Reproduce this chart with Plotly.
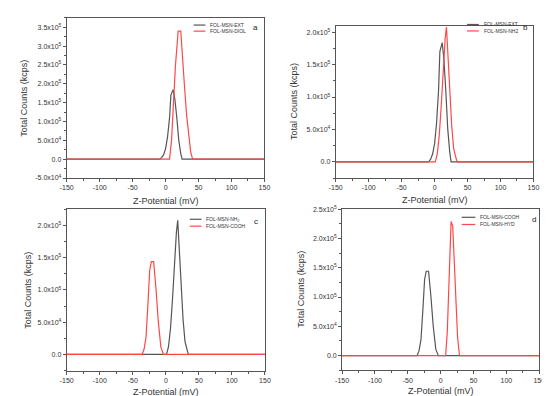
import plotly.graph_objects as go
import math

# ---------------- data ----------------
ext_x = [-150, -9, -6, -3, 0, 3, 6, 8, 11.5, 14, 17, 20, 23, 25, 150]
ext_y = [0, 0, 4e3, 1.2e4, 2.8e4, 6e4, 1.1e5, 1.7e5, 1.84e5, 1.6e5, 1.1e5, 5e4, 1.5e4, 0, 0]

diol_x = [-150, 6, 9, 12, 15, 17.5, 19, 23, 26, 29, 32, 35, 38, 41, 150]
diol_y = [0, 0, 5e4, 1.55e5, 2.5e5, 3.05e5, 3.4e5, 3.4e5, 2.5e5, 1.85e5, 1.15e5, 6e4, 2e4, 0, 0]

nh2_x = [-150, 1, 4, 7, 10, 13, 16, 18, 20, 23, 26, 29, 31.5, 34, 150]
nh2_y = [0, 0, 1.2e4, 4e4, 8.5e4, 1.4e5, 1.9e5, 2.08e5, 1.65e5, 1.05e5, 5.5e4, 2e4, 7e3, 0, 0]

cooh_x = [-150, -36, -33, -30, -27, -24.5, -22, -18.5, -15, -11.5, -7.5, -3.5, 150]
cooh_y = [0, 0, 8e3, 2.7e4, 8e4, 1.3e5, 1.44e5, 1.44e5, 1.03e5, 5.2e4, 1.1e4, 0, 0]

hyd_x = [-150, 7.5, 10, 12.5, 15.8, 18.3, 20.5, 22.3, 24, 25.7, 28.6, 150]
hyd_y = [0, 0, 4e4, 1.2e5, 2.29e5, 2.21e5, 1.6e5, 1.15e5, 6.5e4, 3.1e4, 0, 0]

x_ticks = [-150, -100, -50, 0, 50, 100, 150]
x_minor = [-125, -75, -25, 25, 75, 125]

panels = [
    # label, gray(name,x,y), red(name,x,y), y range, y major ticks
    ("a", ("FOL-MSN-EXT", ext_x, ext_y), ("FOL-MSN-DIOL", diol_x, diol_y),
     [-5e4, 3.75e5], [-5e4, 0, 5e4, 1e5, 1.5e5, 2e5, 2.5e5, 3e5, 3.5e5]),
    ("b", ("FOL-MSN-EXT", ext_x, ext_y), ("FOL-MSN-NH2", nh2_x, nh2_y),
     [-2.5e4, 2.1e5], [0, 5e4, 1e5, 1.5e5, 2e5]),
    ("c", ("FOL-MSN-NH<sub>2</sub>", nh2_x, nh2_y), ("FOL-MSN-COOH", cooh_x, cooh_y),
     [-2.5e4, 2.25e5], [0, 5e4, 1e5, 1.5e5, 2e5]),
    ("d", ("FOL-MSN-COOH", cooh_x, cooh_y), ("FOL-MSN-HYD", hyd_x, hyd_y),
     [-2.5e4, 2.5e5], [0, 5e4, 1e5, 1.5e5, 2e5, 2.5e5]),
]

# ---------------- layout geometry (pixels) ----------------
W, H = 550, 396
boxes = {  # left, right, top, bottom in px
    "a": (53, 255.5, 6, 169),
    "b": (328.5, 531, 14, 169),
    "c": (53, 256, 201, 365),
    "d": (335, 537, 200.7, 364.7),
}
ytitle_x = {"a": 9, "b": 286, "c": 13, "d": 293}
xtitle_y = {"a": 192, "b": 191, "c": 387, "d": 386}
legend_pos = {  # line start x, line end x, text x, row1 y, row2 y, letter x, letter y
    "a": (183, 195, 197.5, 13.3, 19.5, 246, 16),
    "b": (463, 475, 478, 12.7, 19.3, 523, 15.7),
    "c": (179, 191, 193.5, 211, 218, 247, 213),
    "d": (457.5, 471.5, 474.5, 209, 216.3, 531.5, 211.3),
}

GRAY = "#555555"
RED = "#ff4747"
AX = "#555555"
TXT = "#333333"
FONT = "Arial, Liberation Sans, sans-serif"


def fmt(v):
    if v == 0:
        return "0.0"
    e = int(math.floor(math.log10(abs(v))))
    m = v / 10 ** e
    return f"{m:.1f}x10<sup>{e}</sup>"


def px(x):
    return x / W


def py(y):
    return 1 - y / H


fig = go.Figure()
annotations = []
shapes = []

for i, (lab, g, r, yr, yt) in enumerate(panels):
    n = "" if i == 0 else str(i + 1)
    L, R, T, B = boxes[lab]
    for (name, xs, ys), col in ((g, GRAY), (r, RED)):
        fig.add_trace(go.Scatter(
            x=xs, y=ys, mode="lines", name=name, showlegend=False,
            line=dict(color=col, width=1.2),
            xaxis="x" + n, yaxis="y" + n,
        ))
    step = yt[1] - yt[0]
    yminor = []
    v = yt[0] - step / 2
    while v <= yr[1]:
        if v >= yr[0]:
            yminor.append(v)
        v += step
    common = dict(showline=True, linecolor=AX, linewidth=1, mirror=True,
                  showgrid=False, zeroline=False, ticks="outside", ticklen=3,
                  tickcolor=AX, tickwidth=1,
                  tickfont=dict(family=FONT, size=7, color=TXT))
    fig.update_layout(**{
        "xaxis" + n: dict(domain=[px(L), px(R)], range=[-150, 150], anchor="y" + n,
                          tickmode="array", tickvals=x_ticks,
                          ticktext=[str(t) for t in x_ticks],
                          minor=dict(ticks="outside", ticklen=2, tickcolor=AX,
                                     tickmode="array", tickvals=x_minor),
                          **common),
        "yaxis" + n: dict(domain=[py(B), py(T)], range=yr, anchor="x" + n,
                          tickmode="array", tickvals=yt,
                          ticktext=[fmt(t) for t in yt],
                          minor=dict(ticks="outside", ticklen=2, tickcolor=AX,
                                     tickmode="array", tickvals=yminor),
                          **common),
    })
    # axis titles
    annotations.append(dict(x=px((L + R) / 2), y=py(xtitle_y[lab]), xref="paper", yref="paper",
                            text="Z-Potential (mV)", showarrow=False,
                            font=dict(family=FONT, size=9, color=TXT),
                            xanchor="center", yanchor="middle"))
    annotations.append(dict(x=px(ytitle_x[lab]), y=py((T + B) / 2), xref="paper", yref="paper",
                            text="Total Counts (kcps)", showarrow=False, textangle=-90,
                            font=dict(family=FONT, size=9, color=TXT),
                            xanchor="center", yanchor="middle"))
    # legend
    lx0, lx1, tx, r1, r2, kx, ky = legend_pos[lab]
    for (name, _, _), col, yy in ((g, GRAY, r1), (r, RED, r2)):
        shapes.append(dict(type="line", xref="paper", yref="paper",
                           x0=px(lx0), x1=px(lx1), y0=py(yy), y1=py(yy),
                           line=dict(color=col, width=1.2)))
        annotations.append(dict(x=px(tx), y=py(yy), xref="paper", yref="paper",
                                text=name, showarrow=False,
                                font=dict(family=FONT, size=5, color=TXT),
                                xanchor="left", yanchor="middle"))
    annotations.append(dict(x=px(kx), y=py(ky), xref="paper", yref="paper",
                            text=lab, showarrow=False,
                            font=dict(family=FONT, size=8, color="#222222"),
                            xanchor="center", yanchor="middle"))

fig.update_layout(width=W, height=H, margin=dict(l=0, r=0, t=0, b=0),
                  paper_bgcolor="white", plot_bgcolor="white",
                  showlegend=False, annotations=annotations, shapes=shapes)

fig.write_html("out.html")
